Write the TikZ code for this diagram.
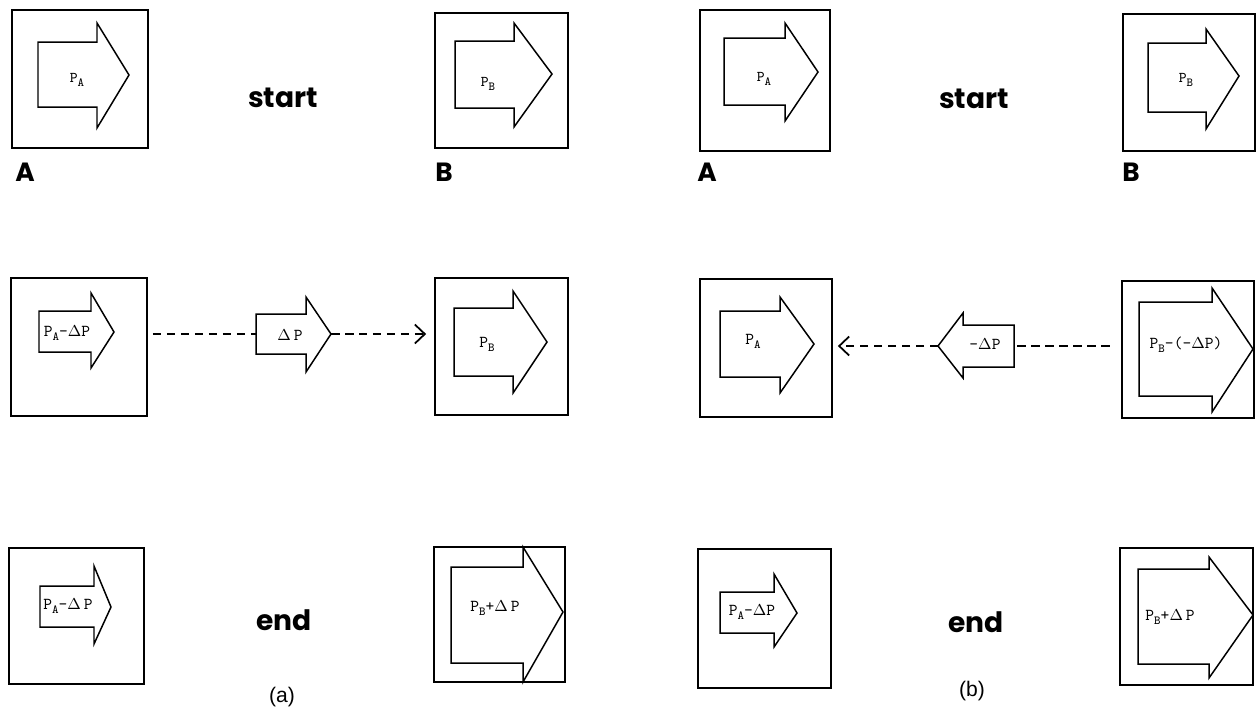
\documentclass[tikz,border=0pt]{standalone}
\usepackage{fontspec}
\newfontfamily\headfont{Poppins}
\newfontfamily\capfont{Liberation Sans}
\usetikzlibrary{arrows.meta,fit}

% quantity with a lowered subscript letter
\newcommand\Psub[1]{P\raisebox{-0.55ex}{\fontsize{7}{8}\selectfont #1}}
\newcommand\D{$\Delta$}

% fat outline arrow: name, tail x, shaft top, shaft bottom, head x, head top, head bottom, tip x, tip y
\newcommand\fatarrow[9]{%
  \draw[fat] (#2,#3) -- (#5,#3) -- (#5,#6) -- (#8,#9) -- (#5,#7) -- (#5,#4) -- (#2,#4) -- cycle;
  \coordinate (#1-tail) at (#2,{(#3+#4)/2});
  \coordinate (#1-tip) at (#8,#9);
}
% framed cell: name, x1, y1, x2, y2
\newcommand\cell[5]{\node[frame, fit={(#2,#3) (#4,#5)}] (#1) {};}

\tikzset{
  frame/.style={draw, line width=1pt, inner sep=0pt},
  fat/.style={draw, line width=0.85pt, line join=miter},
  dashline/.style={line width=1pt, dash pattern=on 0.17cm off 0.11cm},
  barb/.style={-{Straight Barb[length=0.2cm,width=0.38cm,line width=1pt]}},
  head/.style={font=\headfont\bfseries\fontsize{16}{18}\selectfont, inner sep=0pt},
  letter/.style={font=\headfont\bfseries\fontsize{15}{17}\selectfont, inner sep=0pt},
  tag/.style={font=\capfont\fontsize{12}{14}\selectfont, inner sep=0pt},
  qty/.style={font=\ttfamily\fontsize{9.5}{10}\selectfont, inner sep=0pt},
  qtys/.style={font=\ttfamily\fontsize{8.5}{9}\selectfont, inner sep=0pt},
}

\begin{document}
\begin{tikzpicture}[x=0.02cm, y=-0.02cm]
\useasboundingbox (0,0) rectangle (1256,708);

% ---------------- (a) ----------------
% start
\cell{a1A}{12}{10}{148}{148}
\fatarrow{a1pa}{38}{42}{107}{97}{23}{128}{129}{75}
\node[qtys] (a1paL) at (77,80) {\Psub{A}};
\node[letter] (a1Alab) at (25,172) {A};
\node[head] (astart) at (283,98) {start};
\cell{a1B}{435}{13}{568}{148}
\fatarrow{a1pb}{455}{41}{108}{514}{23}{127}{552}{74}
\node[qtys] (a1pbL) at (488,84) {\Psub{B}};
\node[letter] (a1Blab) at (444,172) {B};

% transfer
\cell{a2A}{11}{278}{147}{416}
\fatarrow{a2pa}{39}{311}{352}{91}{293}{368}{114}{332}
\node[qty] (a2paL) at (67,333) {\Psub{A}-\D P};
\fatarrow{adp}{256}{314}{354}{306}{297}{372}{331}{334}
\node[qty] (adpL) at (290,335) {\D\,P};
\cell{a2B}{435}{278}{568}{415}
\fatarrow{a2pb}{454}{308}{376}{513}{291}{393}{547}{342}
\node[qty] (a2pbL) at (487,344) {\Psub{B}};
\draw[dashline, shorten <=0.1cm] (a2A.east |- adp-tail) -- (adp-tail);
\draw[dashline, barb, shorten >=0.16cm] (adp-tip) -- (a2B.west |- adp-tip);

% end
\cell{a3A}{9}{548}{144}{684}
\fatarrow{a3pa}{40}{586}{627}{94}{566}{644}{111}{607}
\node[qty] (a3paL) at (68,606) {\Psub{A}-\D\,P};
\node[head] (aend) at (284,620) {end};
\node[tag] (acap) at (282,697) {(a)};
\cell{a3B}{434}{547}{565}{682}
\fatarrow{a3pb}{451}{567}{663}{523}{547}{682}{563}{612}
\node[qty] (a3pbL) at (495,608) {\Psub{B}+\D\,P};

% ---------------- (b) ----------------
% start
\cell{b1A}{700}{10}{830}{151}
\fatarrow{b1pa}{724}{38}{105}{785}{23}{121}{818}{72}
\node[qtys] (b1paL) at (764,79) {\Psub{A}};
\node[letter] (b1Alab) at (707,172) {A};
\node[head] (bstart) at (974,99) {start};
\cell{b1B}{1123}{14}{1255}{151}
\fatarrow{b1pb}{1148}{43}{112}{1206}{29}{129}{1239}{76}
\node[qtys] (b1pbL) at (1186,80) {\Psub{B}};
\node[letter] (b1Blab) at (1131,172) {B};

% transfer
\cell{b2A}{700}{279}{832}{417}
\fatarrow{b2pa}{720}{311}{377}{780}{297}{393}{814}{344}
\node[qty] (b2paL) at (753,341) {\Psub{A}};
\fatarrow{bdp}{1014}{325}{367}{963}{313}{378}{938}{346}
\node[qty] (bdpL) at (985,344) {-\D P};
\cell{b2B}{1122}{281}{1254}{418}
\fatarrow{b2pb}{1139}{302}{396}{1212}{288}{412}{1253}{349}
\node[qty] (b2pbL) at (1186,345) {\Psub{B}-(-\D P)};
\draw[dashline, barb, shorten >=0.1cm] (bdp-tip) -- (b2A.east |- bdp-tip);
\draw[dashline, shorten <=0.06cm, shorten >=0.14cm] (bdp-tail) -- (b2B.west |- bdp-tail);

% end
\cell{b3A}{698}{549}{831}{688}
\fatarrow{b3pa}{720}{592}{633}{774}{574}{647}{797}{613}
\node[qty] (b3paL) at (752,612) {\Psub{A}-\D P};
\node[head] (bend) at (976,622) {end};
\node[tag] (bcap) at (972,691) {(b)};
\cell{b3B}{1120}{548}{1253}{685}
\fatarrow{b3pb}{1138}{569}{664}{1209}{557}{678}{1253}{615}
\node[qty] (b3pbL) at (1170,617) {\Psub{B}+\D\,P};
\end{tikzpicture}
\end{document}
